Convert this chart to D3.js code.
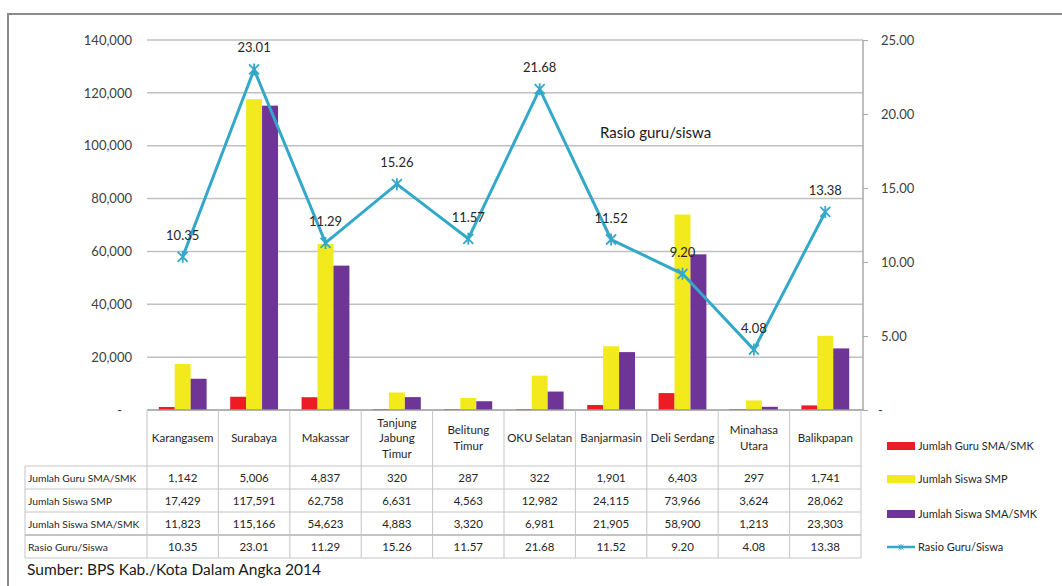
<!DOCTYPE html>
<html>
<head>
<meta charset="utf-8">
<script src="https://cdn.jsdelivr.net/npm/d3@7"></script>
<style>
  body { margin: 0; background: #fff; }
  svg { font-family: Lato, "Open Sans", sans-serif; }
</style>
</head>
<body>
<svg id="chart" width="1062" height="586"></svg>
<script>
// data
var categories = ["Karangasem", "Surabaya", "Makassar", "Tanjung Jabung Timur", "Belitung Timur",
                  "OKU Selatan", "Banjarmasin", "Deli Serdang", "Minahasa Utara", "Balikpapan"];
var headerLines = [["Karangasem"], ["Surabaya"], ["Makassar"], ["Tanjung", "Jabung", "Timur"], ["Belitung", "Timur"],
                   ["OKU Selatan"], ["Banjarmasin"], ["Deli Serdang"], ["Minahasa", "Utara"], ["Balikpapan"]];
var guruSMA   = [1142, 5006, 4837, 320, 287, 322, 1901, 6403, 297, 1741];
var siswaSMP  = [17429, 117591, 62758, 6631, 4563, 12982, 24115, 73966, 3624, 28062];
var siswaSMA  = [11823, 115166, 54623, 4883, 3320, 6981, 21905, 58900, 1213, 23303];
var rasio     = [10.35, 23.01, 11.29, 15.26, 11.57, 21.68, 11.52, 9.20, 4.08, 13.38];
var seriesNames = ["Jumlah Guru SMA/SMK", "Jumlah Siswa SMP", "Jumlah Siswa SMA/SMK", "Rasio Guru/Siswa"];
var leftTicks  = [0, 20000, 40000, 60000, 80000, 100000, 120000, 140000];
var rightTicks = [0, 5, 10, 15, 20, 25];
var sourceText = "Sumber: BPS Kab./Kota Dalam Angka 2014";

var barColors = ["#ED1C24", "#F2EA1C", "#6E3596"];
var lineColor = "#33A8C8";
var gridColor = "#C0C0C0";

var svg = d3.select("#chart");

// outer frame
svg.append("path").attr("d", "M8,586L8,14L1062,14")
   .attr("fill", "none").attr("stroke", "#8a8a8a").attr("stroke-width", 2);

var plot = {left: 147, right: 861, top: 40, bottom: 410};

var x0 = d3.scaleBand().domain(categories).range([plot.left, plot.right]);
var bw = x0.bandwidth();
var x1 = d3.scaleBand().domain([0, 1, 2]).range([bw * 0.165, bw * 0.835]);
var yL = d3.scaleLinear().domain([0, 140000]).range([plot.bottom, plot.top]);
var yR = d3.scaleLinear().domain([0, 25]).range([plot.bottom, plot.top]);

// gridlines
svg.append("g").selectAll("line").data(leftTicks.slice(1)).join("line")
   .attr("x1", plot.left).attr("x2", plot.right + 2)
   .attr("y1", function(d) { return yL(d); }).attr("y2", function(d) { return yL(d); })
   .attr("stroke", gridColor).attr("stroke-width", 1.5);

// left axis
var leftAxis = d3.axisLeft(yL).tickValues(leftTicks).tickSize(0).tickPadding(15)
   .tickFormat(function(d) { return d === 0 ? "-" : d3.format(",")(d); });
var gL = svg.append("g").attr("transform", "translate(" + plot.left + ",0)").call(leftAxis);
gL.select(".domain").remove();
gL.selectAll("text").attr("font-size", 13).attr("fill", "#404040")
  .attr("font-family", "Lato, sans-serif");
gL.selectAll(".tick").filter(function(d) { return d === 0; }).select("text").attr("dx", -10);

// right axis
var rightAxis = d3.axisRight(yR).tickValues(rightTicks).tickSize(5).tickPadding(13)
   .tickFormat(function(d) { return d === 0 ? "-" : d3.format(".2f")(d); });
var gR = svg.append("g").attr("transform", "translate(" + (plot.right + 2) + ",0)").call(rightAxis);
gR.select(".domain").attr("stroke", "#a8a8a8").attr("stroke-width", 1.5).attr("d", "M0," + plot.top + "V" + plot.bottom);
gR.selectAll(".tick line").attr("stroke", "#a8a8a8");
gR.selectAll("text").attr("font-size", 13).attr("fill", "#404040")
  .attr("font-family", "Lato, sans-serif");
gR.selectAll(".tick").filter(function(d) { return d === 0; }).select("text").attr("dx", -3);

// bars
var barSeries = [guruSMA, siswaSMP, siswaSMA];
barSeries.forEach(function(vals, s) {
  svg.append("g").selectAll("rect").data(vals).join("rect")
     .attr("x", function(d, i) { return x0(categories[i]) + x1(s); })
     .attr("width", x1.bandwidth())
     .attr("y", function(d) { return yL(d); })
     .attr("height", function(d) { return yL(0) - yL(d); })
     .attr("fill", barColors[s]);
});

// zero axis line
svg.append("line").attr("x1", plot.left).attr("x2", plot.right + 2)
   .attr("y1", plot.bottom).attr("y2", plot.bottom)
   .attr("stroke", "#999").attr("stroke-width", 1.5);

// ratio line
var cx = function(i) { return x0(categories[i]) + bw / 2; };
var line = d3.line().x(function(d, i) { return cx(i); }).y(function(d) { return yR(d); });
svg.append("path").datum(rasio).attr("d", line)
   .attr("fill", "none").attr("stroke", lineColor).attr("stroke-width", 3);

var starPath = "M-5,-5L5,5M-5,5L5,-5M0,-6L0,6";
svg.append("g").selectAll("path").data(rasio).join("path")
   .attr("transform", function(d, i) { return "translate(" + cx(i) + "," + yR(d) + ")"; })
   .attr("d", starPath).attr("fill", "none").attr("stroke", lineColor).attr("stroke-width", 1.8);

svg.append("g").selectAll("text").data(rasio).join("text")
   .attr("x", function(d, i) { return cx(i); })
   .attr("y", function(d) { return yR(d) - 17; })
   .attr("text-anchor", "middle").attr("font-size", 13).attr("fill", "#262626")
   .text(function(d) { return d3.format(".2f")(d); });

svg.append("text").attr("x", 600).attr("y", 138).attr("font-size", 15).attr("fill", "#1a1a1a")
   .text("Rasio guru/siswa");

// data table
var rowTops = [466, 489, 512, 535, 558];
var headTop = plot.bottom;
var labelLeft = 25;
var tbl = svg.append("g").attr("stroke", "#c4c4c4").attr("stroke-width", 1);
// vertical lines in header + body
categories.forEach(function(c, i) {
  tbl.append("line").attr("x1", x0(c)).attr("x2", x0(c)).attr("y1", headTop).attr("y2", rowTops[4]);
});
tbl.append("line").attr("x1", plot.right).attr("x2", plot.right).attr("y1", headTop).attr("y2", rowTops[4]);
tbl.append("line").attr("x1", labelLeft).attr("x2", labelLeft).attr("y1", rowTops[0]).attr("y2", rowTops[4]);
rowTops.forEach(function(y, r) {
  tbl.append("line").attr("x1", labelLeft).attr("x2", plot.right).attr("y1", y).attr("y2", y)
     .attr("stroke-width", r === 3 ? 2 : 1);
});

// header labels
var hd = svg.append("g").attr("font-size", 11.5).attr("fill", "#262626").attr("text-anchor", "middle");
headerLines.forEach(function(lines, i) {
  var n = lines.length;
  lines.forEach(function(t, k) {
    hd.append("text").attr("x", cx(i)).attr("y", 442 + (k - (n - 1) / 2) * 15.5).text(t);
  });
});

// body
var tableRows = [guruSMA, siswaSMP, siswaSMA, rasio];
var body = svg.append("g").attr("font-size", 11.5).attr("fill", "#262626");
tableRows.forEach(function(vals, r) {
  var yMid = (rowTops[r] + rowTops[r + 1]) / 2 + 4;
  body.append("text").attr("x", labelLeft + 3).attr("y", yMid).attr("font-size", 10.3)
      .text(seriesNames[r]);
  vals.forEach(function(v, i) {
    body.append("text").attr("x", cx(i)).attr("y", yMid).attr("text-anchor", "middle")
        .text(r === 3 ? d3.format(".2f")(v) : d3.format(",")(v));
  });
});

// legend
var legY = [446, 479, 514, 547];
var lg = svg.append("g");
seriesNames.forEach(function(name, s) {
  if (s < 3) {
    lg.append("rect").attr("x", 887).attr("y", legY[s] - 4).attr("width", 28).attr("height", 8)
      .attr("fill", barColors[s]);
  } else {
    lg.append("line").attr("x1", 887).attr("x2", 915).attr("y1", legY[s]).attr("y2", legY[s])
      .attr("stroke", lineColor).attr("stroke-width", 2.5);
    lg.append("path").attr("transform", "translate(901," + legY[s] + ") scale(0.5)")
      .attr("d", starPath).attr("fill", "none").attr("stroke", lineColor).attr("stroke-width", 2);
  }
  lg.append("text").attr("x", 918).attr("y", legY[s] + 4).attr("font-size", 11)
    .attr("fill", "#262626").text(name);
});

// source
svg.append("text").attr("x", 27).attr("y", 575).attr("font-size", 15.5).attr("fill", "#1a1a1a")
   .text(sourceText);
</script>
</body>
</html>
